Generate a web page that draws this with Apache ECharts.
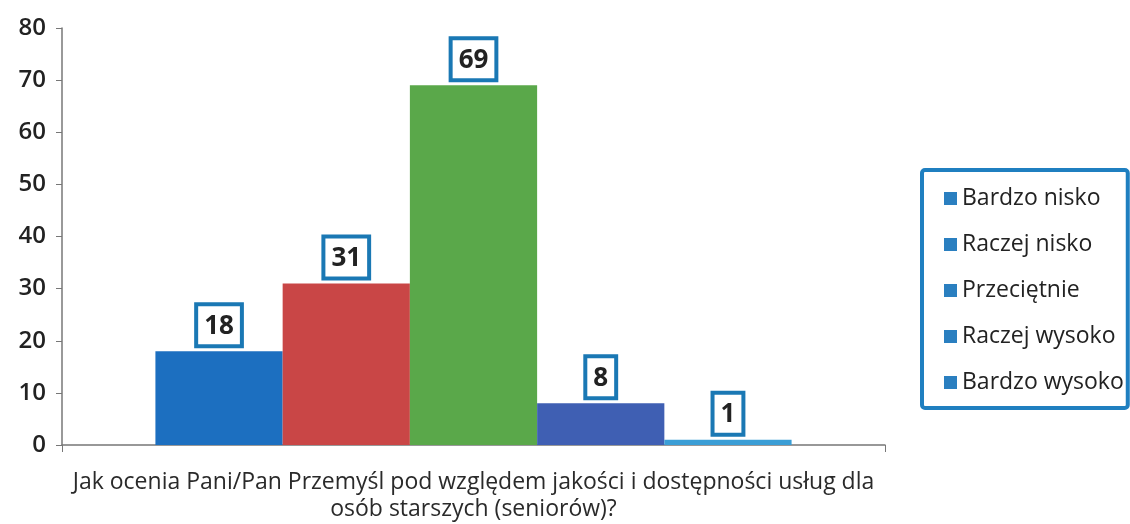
<!DOCTYPE html>
<html><head><meta charset="utf-8">
<script src="https://cdn.jsdelivr.net/npm/echarts@6/dist/echarts.min.js"></script>
<style>html,body{margin:0;padding:0;background:#fff}#c{width:1130px;height:524px}</style>
</head><body><div id="c"></div>
<script>
const category = ['Jak ocenia Pani/Pan Przemyśl pod względem jakości i dostępności usług dla\nosób starszych (seniorów)?'];
const seriesNames = ['Bardzo nisko', 'Raczej nisko', 'Przeciętnie', 'Raczej wysoko', 'Bardzo wysoko'];
const seriesValues = [18, 31, 69, 8, 1];
const barColors = ['#1c6fc0', '#c94646', '#5aa84a', '#3f5fb3', '#3a9ed6'];
const legendColor = '#2a7fc0';
const yTicks = [0, 10, 20, 30, 40, 50, 60, 70, 80];

const FONT = '"Open Sans", "Noto Sans", sans-serif';
const chart = echarts.init(document.getElementById('c'));
chart.setOption({
  animation: false,
  textStyle: { fontFamily: FONT },
  grid: { left: 62, right: 245, top: 28, bottom: 79, outerBoundsMode: 'none', containLabel: false },
  legend: {
    orient: 'vertical',
    left: 922, top: 170,
    itemWidth: 13, itemHeight: 13, itemGap: 23,
    padding: [17, 4, 14, 22],
    borderColor: '#1f7fc0', borderWidth: 4, borderRadius: 3,
    textStyle: { fontSize: 23, color: '#222', fontFamily: FONT },
    data: seriesNames.map(n => ({ name: n, icon: 'rect', itemStyle: { color: legendColor } }))
  },
  xAxis: {
    type: 'category',
    data: category,
    axisLine: { lineStyle: { color: '#777', width: 1.5 } },
    axisTick: { show: true, length: 7, lineStyle: { color: '#777' } },
    axisLabel: { fontSize: 23, color: '#2a2a2a', margin: 24, lineHeight: 27, fontFamily: FONT }
  },
  yAxis: {
    type: 'value', min: yTicks[0], max: yTicks[yTicks.length - 1], interval: 10,
    splitLine: { show: false },
    axisLine: { show: true, lineStyle: { color: '#777', width: 1.5 } },
    axisTick: { show: true, length: 6, lineStyle: { color: '#777' } },
    axisLabel: { fontSize: 24, fontWeight: 600, color: '#222', margin: 16, fontFamily: FONT }
  },
  series: seriesNames.map((n, i) => ({
    name: n, type: 'bar',
    data: [seriesValues[i]],
    barGap: '0%', barCategoryGap: '22.7%',
    itemStyle: { color: barColors[i] },
    label: {
      show: true, position: 'top', distance: 7,
      fontSize: 26, fontWeight: 'bold', color: '#222', fontFamily: FONT,
      lineHeight: 30,
      backgroundColor: '#fff', borderColor: '#1a78b4', borderWidth: 4,
      padding: [5, 6, 3, 6]
    }
  }))
});
</script></body></html>
